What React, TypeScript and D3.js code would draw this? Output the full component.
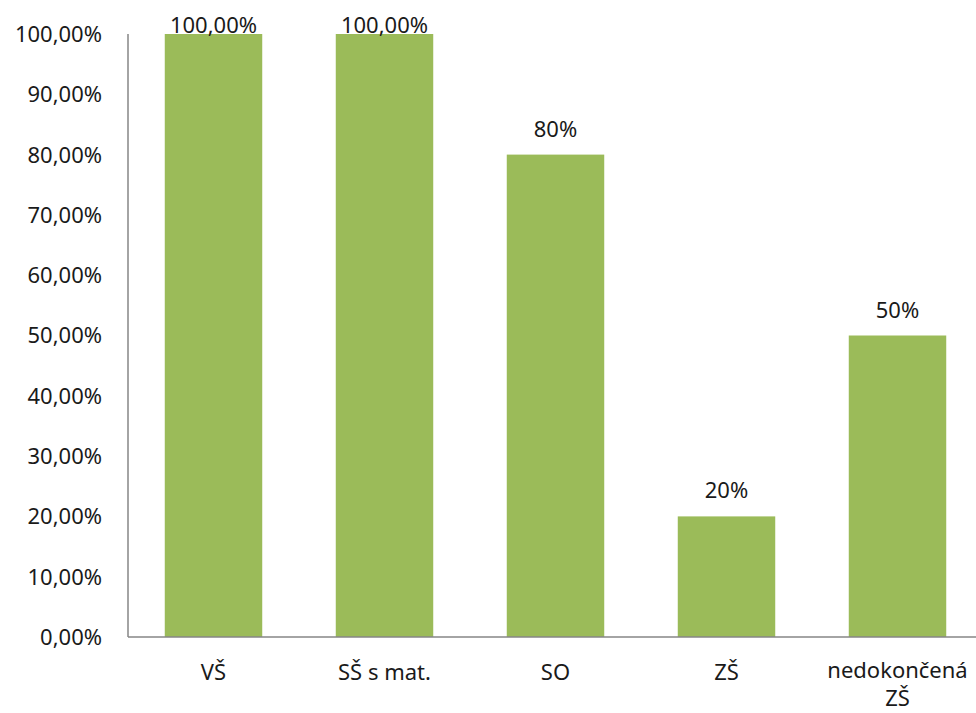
import * as d3 from "d3";

const categories = ["VŠ", "SŠ s mat.", "SO", "ZŠ", "nedokončená ZŠ"];
const values = [1.0, 1.0, 0.8, 0.2, 0.5];
const valueLabels = ["100,00%", "100,00%", "80%", "20%", "50%"];
const yTicks = [0, 0.1, 0.2, 0.3, 0.4, 0.5, 0.6, 0.7, 0.8, 0.9, 1.0];

const W = 976;
const H = 713;

const PLOT = {
  left: 128,
  right: 983, // last band runs past the image edge
  top: 34,
  bottom: 637,
};

const FONT = {
  family: "'Noto Sans', 'Open Sans', sans-serif",
  size: 22,
  color: "#1a1a1a",
};

const BAR_COLOR = "#9BBB59";
const AXIS_COLOR = "#868686";

function fmtTick(v: number) {
  return (v * 100).toFixed(2).replace(".", ",") + "%";
}

export default function App() {
  const x = d3
    .scaleBand<string>()
    .domain(categories)
    .range([PLOT.left, PLOT.right])
    .paddingInner(0.43)
    .paddingOuter(0.215);

  const y = d3.scaleLinear().domain([0, 1]).range([PLOT.bottom, PLOT.top]);

  return (
    <svg
      width={W}
      height={H}
      style={{ position: "absolute", left: 0, top: 0, background: "#fff" }}
      xmlns="http://www.w3.org/2000/svg"
    >
      <g className="bars">
        {categories.map((c, i) => (
          <rect
            key={c}
            x={x(c)}
            y={y(values[i])}
            width={x.bandwidth()}
            height={y(0) - y(values[i])}
            fill={BAR_COLOR}
          />
        ))}
      </g>

      <g className="y-axis">
        <line
          x1={PLOT.left}
          y1={PLOT.top}
          x2={PLOT.left}
          y2={PLOT.bottom}
          stroke={AXIS_COLOR}
          strokeWidth={1.5}
        />
        {yTicks.map((t) => (
          <text
            key={t}
            x={102}
            y={y(t)}
            dy="0.36em"
            textAnchor="end"
            fontSize={FONT.size}
            fontFamily={FONT.family}
            fill={FONT.color}
          >
            {fmtTick(t)}
          </text>
        ))}
      </g>

      <line
        x1={PLOT.left}
        y1={PLOT.bottom}
        x2={W}
        y2={PLOT.bottom}
        stroke={AXIS_COLOR}
        strokeWidth={1.5}
      />

      <g className="x-labels">
        {categories.map((c) => {
          const cx = x(c)! + x.bandwidth() / 2;
          // excel wraps the long one onto two lines
          const lines = c === "nedokončená ZŠ" ? ["nedokončená", "ZŠ"] : [c];
          return (
            <text
              key={c}
              x={cx}
              y={lines.length > 1 ? 678 : 680}
              textAnchor="middle"
              fontSize={FONT.size}
              fontFamily={FONT.family}
              fill={FONT.color}
            >
              {lines.map((l, i) => (
                <tspan key={i} x={cx} dy={i === 0 ? 0 : 28}>
                  {l}
                </tspan>
              ))}
            </text>
          );
        })}
      </g>

      <g className="data-labels">
        {categories.map((c, i) => {
          const cx = x(c)! + x.bandwidth() / 2;
          const ly = Math.max(y(values[i]) - 18, 33);
          return (
            <text
              key={c}
              x={cx}
              y={ly}
              textAnchor="middle"
              fontSize={FONT.size}
              fontFamily={FONT.family}
              fill={FONT.color}
            >
              {valueLabels[i]}
            </text>
          );
        })}
      </g>
    </svg>
  );
}
